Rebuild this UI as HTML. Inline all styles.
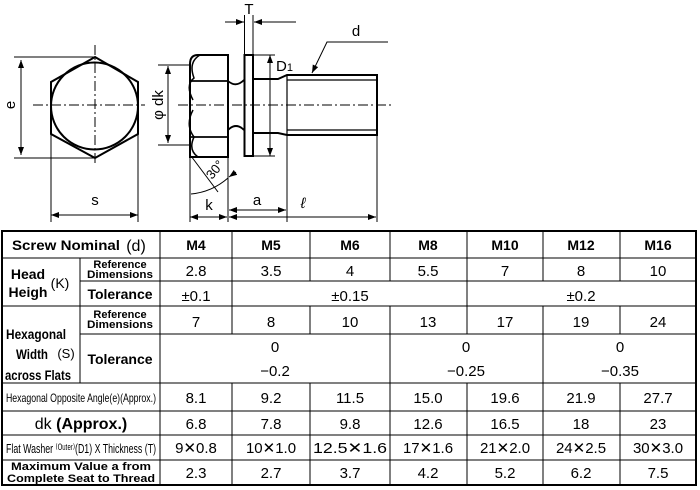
<!DOCTYPE html>
<html><head><meta charset="utf-8"><style>
html,body{margin:0;padding:0;background:#fff;}
svg{display:block;font-family:"Liberation Sans",sans-serif;}
</style></head><body>
<svg width="700" height="490" viewBox="0 0 700 490" xmlns="http://www.w3.org/2000/svg">
<defs>
<marker id="ar" markerWidth="8" markerHeight="6" refX="8" refY="3" orient="auto" markerUnits="userSpaceOnUse"><path d="M0,0 L8,3 L0,6 Z" fill="#000"/></marker>
</defs>
<g stroke="#000" fill="none" stroke-width="1">
<line x1="95" y1="45" x2="95" y2="165" stroke-dasharray="10,3,2,3"/>
<line x1="33" y1="105" x2="145" y2="105" stroke-dasharray="10,3,2,3"/>
<polygon points="95,57 138,82 138,134 95,158 51,134 51,82" stroke-width="2"/>
<circle cx="94.5" cy="106" r="43.5" stroke-width="2"/>
<line x1="14" y1="57" x2="95" y2="57"/>
<line x1="14" y1="158" x2="95" y2="158"/>
<line x1="21" y1="60" x2="21" y2="155" marker-end="url(#ar)"/>
<line x1="21" y1="155" x2="21" y2="60" marker-end="url(#ar)"/>
<line x1="51" y1="134" x2="51" y2="222"/>
<line x1="138" y1="134" x2="138" y2="222"/>
<line x1="53" y1="215" x2="138" y2="215" marker-end="url(#ar)"/>
<line x1="136" y1="215" x2="51" y2="215" marker-end="url(#ar)"/>
<line x1="178" y1="105" x2="392" y2="105" stroke-dasharray="10,3,2,3"/>
<path d="M198,55 L228,55 L228,157 L190,157 L190,64 Q190,55 198,55 Z" stroke-width="2"/>
<path d="M190,81 L228,81 M190,137 L228,137" stroke-width="1.8"/>
<path d="M200,55 Q188,62 194,78 Q185,85 193,100 M193,110 Q185,125 194,137 Q188,150 198,157" stroke-width="1.5"/>
<path d="M228,81 Q236,88 244,80 M228,130 Q236,122 244,130" stroke-width="1.8"/>
<rect x="244.5" y="55" width="8.5" height="101" stroke-width="2"/>
<path d="M253,79 L278,79 L287,75 L377,75 L377,135 L287,135 L278,133 L253,133" stroke-width="2"/>
<path d="M287,75 L287,135 M287,80 L377,80 M287,130 L377,130" stroke-width="1.2"/>
<line x1="158" y1="65" x2="190" y2="65"/>
<line x1="158" y1="145" x2="190" y2="145"/>
<line x1="168" y1="68" x2="168" y2="143" marker-end="url(#ar)"/>
<line x1="168" y1="142" x2="168" y2="66" marker-end="url(#ar)"/>
<line x1="253" y1="55" x2="275" y2="55"/>
<line x1="253" y1="156" x2="275" y2="156"/>
<line x1="270" y1="58" x2="270" y2="156" marker-end="url(#ar)"/>
<line x1="270" y1="153" x2="270" y2="55" marker-end="url(#ar)"/>
<line x1="244.5" y1="15" x2="244.5" y2="55"/>
<line x1="253" y1="15" x2="253" y2="55"/>
<line x1="225" y1="22" x2="244" y2="22" marker-end="url(#ar)"/>
<line x1="296" y1="22" x2="254" y2="22" marker-end="url(#ar)"/>
<polyline points="388,42 327,42 312,73" marker-end="url(#ar)"/>
<line x1="190" y1="157" x2="190" y2="222"/>
<line x1="228" y1="157" x2="228" y2="222"/>
<line x1="287" y1="135" x2="287" y2="222"/>
<line x1="377" y1="135" x2="377" y2="222"/>
<line x1="192" y1="217" x2="227" y2="217" marker-end="url(#ar)"/>
<line x1="226" y1="217" x2="190" y2="217" marker-end="url(#ar)"/>
<line x1="230" y1="210" x2="286" y2="210" marker-end="url(#ar)"/>
<line x1="285" y1="210" x2="229" y2="210" marker-end="url(#ar)"/>
<line x1="230" y1="217" x2="376" y2="217" marker-end="url(#ar)"/>
<line x1="375" y1="217" x2="229" y2="217" marker-end="url(#ar)"/>
<line x1="191" y1="156" x2="218" y2="192"/>
<path d="M191,194 Q212,192 228,178" />
<line x1="236" y1="172" x2="229" y2="177" marker-end="url(#ar)"/>
</g>
<g font-size="15" fill="#000">
<text x="10" y="105" transform="rotate(-90 10 105)" text-anchor="middle" dy="5">e</text>
<text x="95" y="205" text-anchor="middle">s</text>
<text x="158" y="105" transform="rotate(-90 158 105)" text-anchor="middle" dy="5">φ dk</text>
<text x="276" y="71">D<tspan font-size="11">1</tspan></text>
<text x="249" y="14" text-anchor="middle">T</text>
<text x="356" y="36" text-anchor="middle">d</text>
<text x="209" y="210" text-anchor="middle">k</text>
<text x="257" y="205" text-anchor="middle">a</text>
<text x="303" y="208" text-anchor="middle" font-style="italic">ℓ</text>
<text x="212" y="180" transform="rotate(-50 212 180)" font-size="13">30°</text>
</g>
<g stroke="#000" fill="none">
<rect x="2" y="231" width="694" height="254" stroke-width="2"/>
<g stroke-width="1">
<line x1="2" y1="258" x2="696" y2="258"/>
<line x1="80" y1="281" x2="696" y2="281"/>
<line x1="2" y1="306" x2="696" y2="306"/>
<line x1="80" y1="334" x2="696" y2="334"/>
<line x1="2" y1="383" x2="696" y2="383"/>
<line x1="2" y1="411" x2="696" y2="411"/>
<line x1="2" y1="435" x2="696" y2="435"/>
<line x1="2" y1="460" x2="696" y2="460"/>
<line x1="80" y1="258" x2="80" y2="383"/>
<line x1="160" y1="231" x2="160" y2="485"/>
<line x1="232" y1="231" x2="232" y2="334"/>
<line x1="232" y1="383" x2="232" y2="485"/>
<line x1="310" y1="231" x2="310" y2="281"/>
<line x1="310" y1="306" x2="310" y2="334"/>
<line x1="310" y1="383" x2="310" y2="485"/>
<line x1="390" y1="231" x2="390" y2="281"/>
<line x1="390" y1="306" x2="390" y2="485"/>
<line x1="467" y1="231" x2="467" y2="334"/>
<line x1="467" y1="383" x2="467" y2="485"/>
<line x1="543" y1="231" x2="543" y2="281"/>
<line x1="543" y1="306" x2="543" y2="485"/>
<line x1="620" y1="231" x2="620" y2="281"/>
<line x1="620" y1="306" x2="620" y2="334"/>
<line x1="620" y1="383" x2="620" y2="485"/>
</g>
</g>
<g fill="#000" font-size="14" text-anchor="middle">
<text x="66" y="250" font-weight="bold" textLength="108" lengthAdjust="spacingAndGlyphs">Screw Nominal</text><text x="136" y="251" font-size="16">(d)</text>
<g font-weight="bold">
<text x="196" y="250">M4</text><text x="271" y="250">M5</text><text x="350" y="250">M6</text><text x="428" y="250">M8</text><text x="505" y="250">M10</text><text x="581" y="250">M12</text><text x="658" y="250">M16</text>
</g>
<text x="28" y="279" font-weight="bold">Head</text><text x="28" y="297" font-weight="bold">Heigh</text><text x="60" y="288">(K)</text>
<g font-size="11" font-weight="bold"><text x="120" y="268">Reference</text><text x="120" y="278" textLength="66" lengthAdjust="spacingAndGlyphs">Dimensions</text>
<text x="120" y="318">Reference</text><text x="120" y="328" textLength="66" lengthAdjust="spacingAndGlyphs">Dimensions</text></g>
<text x="120" y="299" font-weight="bold">Tolerance</text>
<text x="120" y="364" font-weight="bold">Tolerance</text>
<g font-size="14" font-weight="bold" text-anchor="start">
<text x="6" y="339" textLength="60" lengthAdjust="spacingAndGlyphs">Hexagonal</text>
<text x="16" y="359" textLength="32" lengthAdjust="spacingAndGlyphs">Width</text>
<text x="5" y="380" textLength="66" lengthAdjust="spacingAndGlyphs">across Flats</text>
</g>
<text x="66" y="358" font-size="13">(S)</text>
<g font-size="15">
<text x="196" y="276">2.8</text><text x="271" y="276">3.5</text><text x="350" y="276">4</text><text x="428" y="276">5.5</text><text x="505" y="276">7</text><text x="581" y="276">8</text><text x="658" y="276">10</text>
<text x="196" y="301">±0.1</text><text x="350" y="301">±0.15</text><text x="581" y="301">±0.2</text>
<text x="196" y="327">7</text><text x="271" y="327">8</text><text x="350" y="327">10</text><text x="428" y="327">13</text><text x="505" y="327">17</text><text x="581" y="327">19</text><text x="658" y="327">24</text>
<text x="275" y="352">0</text><text x="466" y="352">0</text><text x="620" y="352">0</text>
<text x="275" y="376">−0.2</text><text x="466" y="376">−0.25</text><text x="620" y="376">−0.35</text>
<text x="196" y="403">8.1</text><text x="271" y="403">9.2</text><text x="350" y="403">11.5</text><text x="428" y="403">15.0</text><text x="505" y="403">19.6</text><text x="581" y="403">21.9</text><text x="658" y="403">27.7</text>
<text x="196" y="429">6.8</text><text x="271" y="429">7.8</text><text x="350" y="429">9.8</text><text x="428" y="429">12.6</text><text x="505" y="429">16.5</text><text x="581" y="429">18</text><text x="658" y="429">23</text>
<text x="196" y="453">9✕0.8</text><text x="271" y="453">10✕1.0</text><text x="350" y="453" textLength="74" lengthAdjust="spacingAndGlyphs">12.5✕1.6</text><text x="428" y="453">17✕1.6</text><text x="505" y="453">21✕2.0</text><text x="581" y="453">24✕2.5</text><text x="658" y="453">30✕3.0</text>
<text x="196" y="478">2.3</text><text x="271" y="478">2.7</text><text x="350" y="478">3.7</text><text x="428" y="478">4.2</text><text x="505" y="478">5.2</text><text x="581" y="478">6.2</text><text x="658" y="478">7.5</text>
</g>
<text x="81" y="402" font-size="12" textLength="150" lengthAdjust="spacingAndGlyphs">Hexagonal Opposite Angle(e)(Approx.)</text>
<text x="81" y="429" font-size="16"><tspan>dk </tspan><tspan font-weight="bold">(Approx.)</tspan></text>
<text x="6" y="453" font-size="13" text-anchor="start" textLength="150" lengthAdjust="spacingAndGlyphs">Flat Washer ⁽ᴼᵘᵗᵉʳ⁾(D1) X Thickness (T)</text>
<g font-size="11" font-weight="bold"><text x="81" y="470" textLength="140" lengthAdjust="spacingAndGlyphs">Maximum Value a from</text><text x="81" y="482" textLength="148" lengthAdjust="spacingAndGlyphs">Complete Seat to Thread</text></g>
</g>
</svg>
</body></html>
